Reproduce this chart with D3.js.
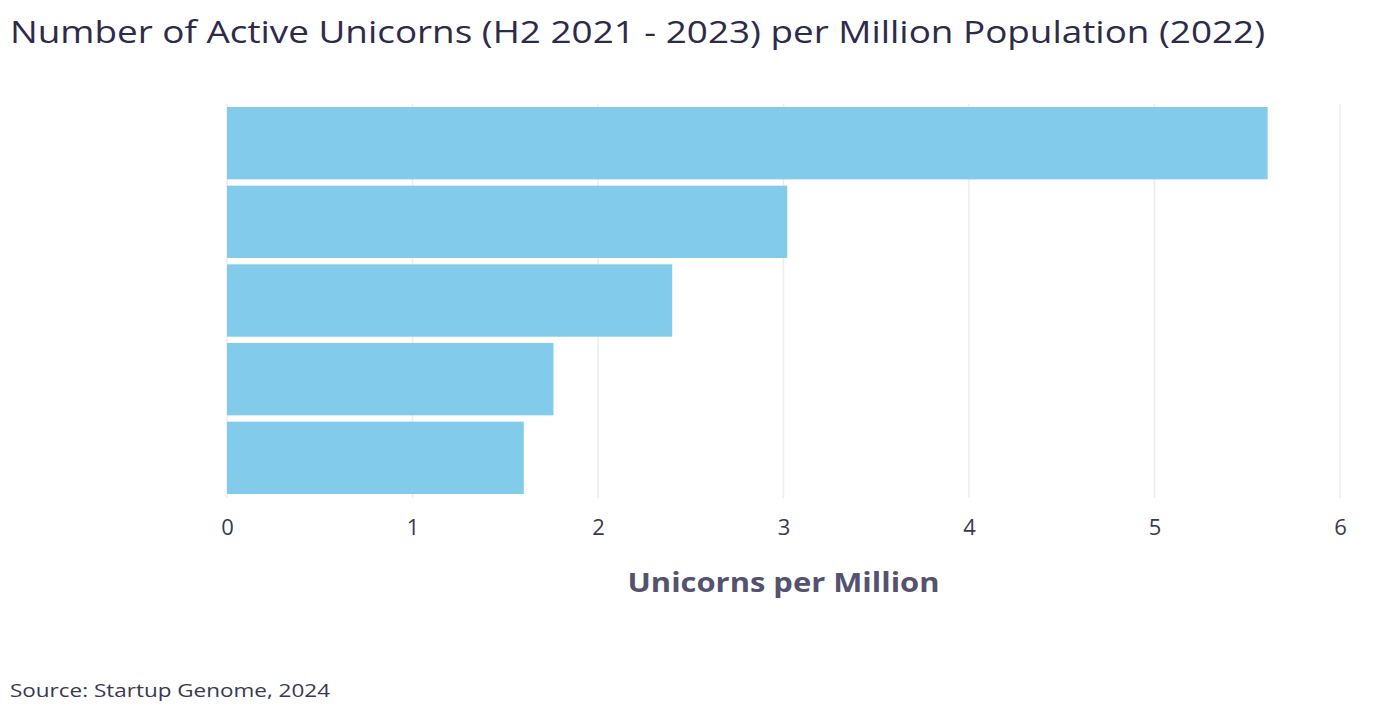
<!DOCTYPE html>
<html>
<head>
    <script src="https://d3js.org/d3.v7.min.js"></script>
    <style>
        body { margin: 0; background: #fff; }
        text { font-family: "Open Sans", "Noto Sans", sans-serif; }
        .title { font-size: 31px; fill: #2d2b4a; }
        .tick-label { font-size: 22px; fill: #3a3850; }
        .axis-title { font-size: 26px; font-weight: bold; fill: #555270; text-anchor: middle; }
        .source { font-size: 18px; fill: #3a3850; }
        .grid line { stroke: #ececec; stroke-width: 1.5; }
    </style>
</head>
<body>
<svg width="1374" height="727"></svg>
<script>
    // Data (no category labels are shown in the chart)
    const categories = ["A", "B", "C", "D", "E"];
    const values = [5.61, 3.02, 2.40, 1.76, 1.60];
    const xTicks = [0, 1, 2, 3, 4, 5, 6];

    const svg = d3.select("svg");
    const margin = {top: 107, left: 227, right: 34, bottom: 233};
    const width = 1374 - margin.left - margin.right,
        height = 727 - margin.top - margin.bottom;

    const x = d3.scaleLinear().domain([0, 6]).range([0, width]);
    const y = d3.scaleBand().domain(categories).range([0, height]).paddingInner(0.08);

    // Title
    svg.append("text")
        .attr("class", "title")
        .attr("x", 10).attr("y", 43)
        .attr("textLength", 1255)
        .attr("lengthAdjust", "spacingAndGlyphs")
        .text("Number of Active Unicorns (H2 2021 - 2023) per Million Population (2022)");

    const g = svg.append("g")
        .attr("transform", "translate(" + margin.left + "," + margin.top + ")");

    // Gridlines
    g.append("g")
        .attr("class", "grid")
        .selectAll("line")
        .data(xTicks)
        .enter().append("line")
        .attr("x1", d => x(d)).attr("x2", d => x(d))
        .attr("y1", -3).attr("y2", height + 4);

    // Bars
    g.selectAll(".bar")
        .data(values)
        .enter().append("rect")
        .attr("class", "bar")
        .attr("x", 0)
        .attr("y", (d, i) => y(categories[i]))
        .attr("width", d => x(d))
        .attr("height", y.bandwidth())
        .attr("fill", "#83cbeb");

    // X axis tick labels
    const xAxis = g.append("g")
        .attr("transform", "translate(0," + height + ")")
        .call(d3.axisBottom(x).tickValues(xTicks).tickSize(0).tickPadding(25).tickFormat(d3.format("d")));
    xAxis.select(".domain").remove();
    xAxis.selectAll("text").attr("class", "tick-label");

    // X axis title
    svg.append("text")
        .attr("class", "axis-title")
        .attr("x", margin.left + width / 2)
        .attr("y", 592)
        .attr("textLength", 312)
        .attr("lengthAdjust", "spacingAndGlyphs")
        .text("Unicorns per Million");

    // Source
    svg.append("text")
        .attr("class", "source")
        .attr("x", 10).attr("y", 697)
        .attr("textLength", 320)
        .attr("lengthAdjust", "spacingAndGlyphs")
        .text("Source: Startup Genome, 2024");
</script>
</body>
</html>
